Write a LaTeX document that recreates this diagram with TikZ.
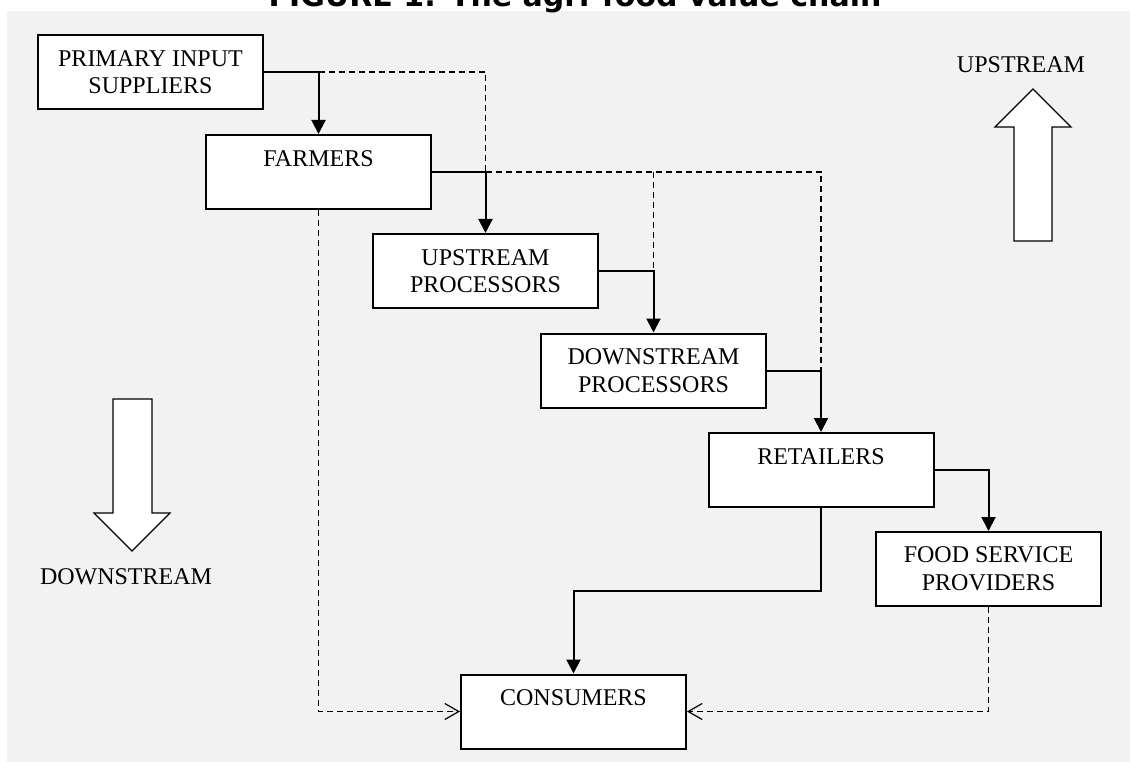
\documentclass[tikz,border=0pt]{standalone}
\usepackage{fontspec}
\setmainfont{Liberation Serif}
\newfontfamily\titlefont{DejaVu Sans}
\usepackage{tikz}
\usetikzlibrary{arrows.meta, calc}
\definecolor{panel}{RGB}{242,242,242}

\begin{document}
\begin{tikzpicture}[x=1pt, y=-1pt,
    stage/.style={draw, line width=2pt, fill=white, minimum width=225pt, minimum height=74pt,
        align=center, font=\fontsize{24}{27.6}\selectfont},
    flow/.style={line width=2pt, -{Triangle[width=14pt,length=14pt]}},
    side/.style={line width=1.2pt, dash pattern=on 6pt off 4pt},
    sidein/.style={side, -{Straight Barb[width=16pt,length=14pt]}},
    blockarrow/.style={draw, line width=1.2pt, fill=white, line join=miter}]
    \useasboundingbox (0,0) rectangle (1130,762);
    \fill[panel] (7,11) rectangle (1130,762);
    \node[anchor=base, inner sep=0pt, font=\titlefont\bfseries\fontsize{30}{31}\selectfont] (title) at (575,7) {FIGURE 1: The agri-food value chain};

    % stages of the chain
    \node[stage] (prim) at (150.5,72) {PRIMARY INPUT\\SUPPLIERS};
    \node[stage] (farm) at (318.5,172) {FARMERS\\~};
    \node[stage] (upp) at (485.5,271) {UPSTREAM\\PROCESSORS};
    \node[stage] (dpp) at (653.5,370.5) {DOWNSTREAM\\PROCESSORS};
    \node[stage] (ret) at (821,470) {RETAILERS\\~};
    \node[stage] (fsp) at (988.5,569) {FOOD SERVICE\\PROVIDERS};
    \node[stage] (con) at (573.5,711.5) {CONSUMERS\\~};

    % main flow
    \draw[flow] (prim.east) -| (farm.north);
    \draw[flow] (farm.east) -| (upp.north);
    \draw[flow] (upp.east) -| (dpp.north);
    \draw[flow] (dpp.east) -| (ret.north);
    \draw[flow] (ret.east) -| (fsp.north);
    \coordinate (retdrop) at ($(ret.south)!0.5!(ret.south |- con.north)$);
    \draw[flow] (ret.south) -- (retdrop) -| (con.north);

    % direct links that skip a stage
    \draw[side] (farm.north |- prim.east) -| (upp.north |- farm.east);
    \draw[side] (upp.north |- farm.east) -| (ret.north |- dpp.east);
    \draw[side] (dpp.north |- farm.east) -- (dpp.north |- upp.east);
    \draw[sidein] (farm.south) |- (con.west);
    \draw[sidein] (fsp.south) |- (con.east);

    % direction of the chain
    \draw[blockarrow] (1014,241) -- (1014,127) -- (995,127) -- (1033,89) -- (1071,127) -- (1052,127) -- (1052,241) -- cycle;
    \node[anchor=base, font=\fontsize{24}{27.6}\selectfont] (uplabel) at (1021,73) {UPSTREAM};
    \draw[blockarrow] (113,399) -- (113,513) -- (94,513) -- (132,551) -- (170,513) -- (152,513) -- (152,399) -- cycle;
    \node[anchor=base, font=\fontsize{24}{27.6}\selectfont] (downlabel) at (126,584) {DOWNSTREAM};
\end{tikzpicture}
\end{document}
